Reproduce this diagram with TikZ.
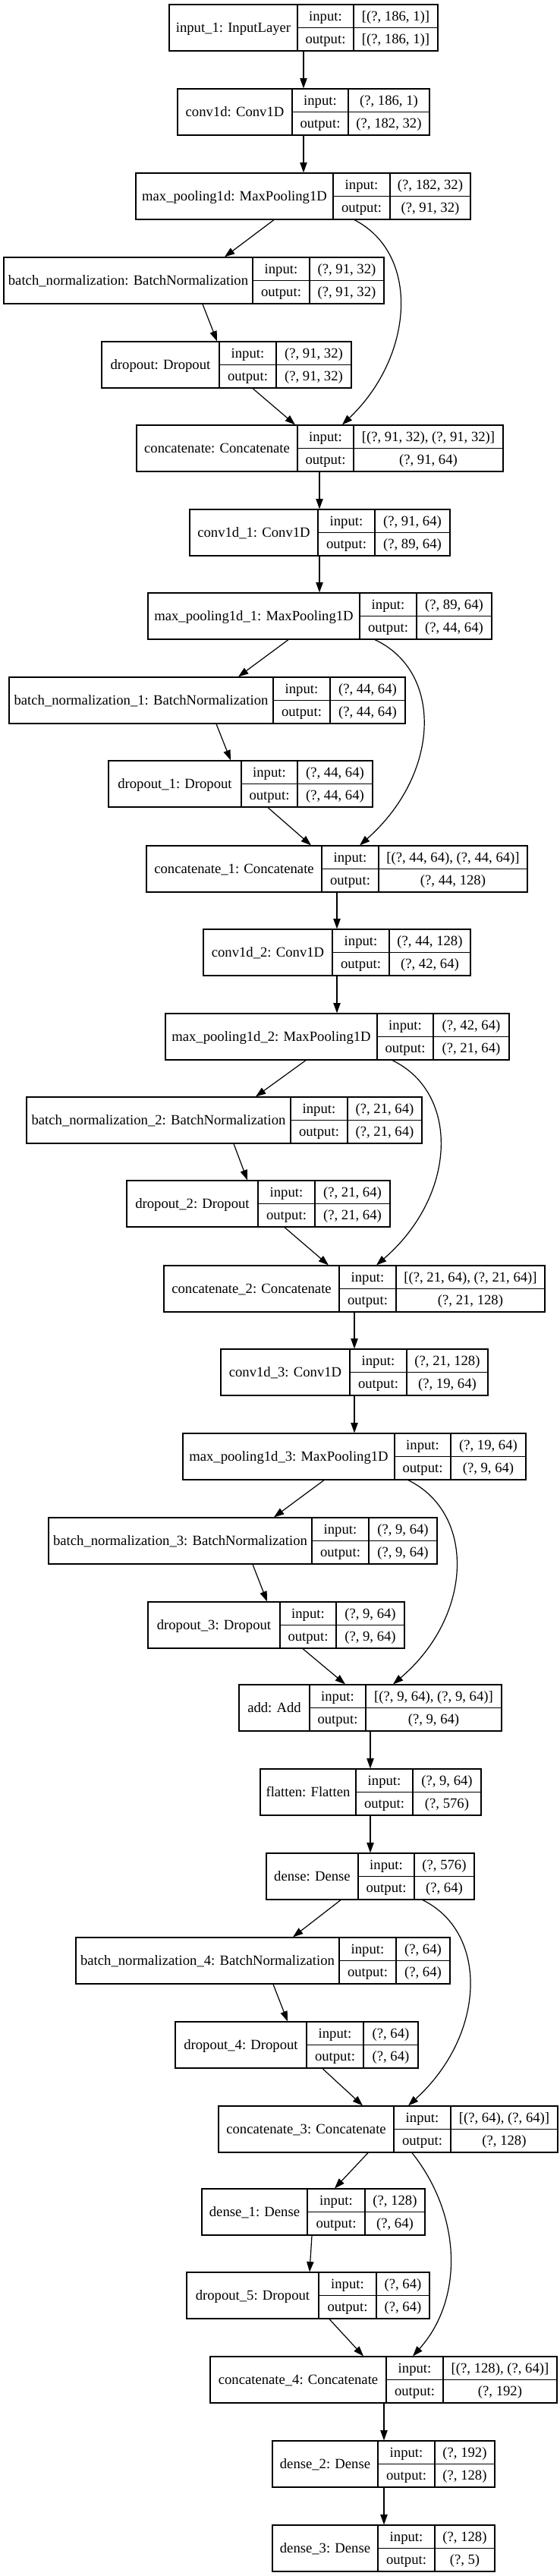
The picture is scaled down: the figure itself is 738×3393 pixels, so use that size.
\documentclass[tikz,border=0pt]{standalone}
\usepackage{fontspec}
\setmainfont{Liberation Serif}
\usetikzlibrary{arrows.meta,fit}
\tikzset{>={Triangle[length=10pt,width=7pt]}}
\tikzset{box/.style={draw,rectangle,inner sep=0pt},
  txt/.style={inner sep=0pt,font=\fontsize{14}{16}\selectfont,
    text height=9.3pt,text depth=0pt}}
% one layer: id, top, left, first rule, second rule, right, name, in, out
\newcommand*{\layer}[9]{%
  \node[box,fit={(#3,#2) (#6,#2+61)}] (#1) {};
  \draw (#4,#2) -- (#4,#2+61) (#4,#2+30.5) -- (#6,#2+30.5)
    (#5,#2) -- (#5,#2+61);
  \node[txt] (#1-name) at ({(#3+#4)/2},#2+30.5) {#7};
  \node[txt] (#1-ik) at ({(#4+#5)/2},#2+15.25) {input:};
  \node[txt] (#1-ok) at ({(#4+#5)/2},#2+45.75) {output:};
  \node[txt] (#1-iv) at ({(#5+#6)/2},#2+15.25) {#8};
  \node[txt] (#1-ov) at ({(#5+#6)/2},#2+45.75) {#9};}

\begin{document}
\begin{tikzpicture}[x=0.75pt,y=-0.75pt,line width=0.9pt]
\useasboundingbox (0,0) rectangle (738,3393);

% Layers
\layer{in1}{6}{223}{392}{466}{577}{input\_1: InputLayer}{[(?, 186, 1)]}{[(?, 186, 1)]}
\layer{cv0}{117}{234}{385}{459}{566}{conv1d: Conv1D}{(?, 186, 1)}{(?, 182, 32)}
\layer{mp0}{228}{179}{439}{514}{620}{max\_pooling1d: MaxPooling1D}{(?, 182, 32)}{(?, 91, 32)}
\layer{bn0}{339}{5}{333}{408}{506}{batch\_normalization: BatchNormalization}{(?, 91, 32)}{(?, 91, 32)}
\layer{do0}{450}{134}{289}{364}{463}{dropout: Dropout}{(?, 91, 32)}{(?, 91, 32)}
\layer{cc0}{560}{180}{392}{466}{663}{concatenate: Concatenate}{[(?, 91, 32), (?, 91, 32)]}{(?, 91, 64)}
\layer{cv1}{671}{250}{419}{494}{593}{conv1d\_1: Conv1D}{(?, 91, 64)}{(?, 89, 64)}
\layer{mp1}{781}{195}{474}{549}{648}{max\_pooling1d\_1: MaxPooling1D}{(?, 89, 64)}{(?, 44, 64)}
\layer{bn1}{892}{12}{360}{435}{534}{batch\_normalization\_1: BatchNormalization}{(?, 44, 64)}{(?, 44, 64)}
\layer{do1}{1002}{143}{318}{392}{491}{dropout\_1: Dropout}{(?, 44, 64)}{(?, 44, 64)}
\layer{cc1}{1114}{193}{424}{499}{695}{concatenate\_1: Concatenate}{[(?, 44, 64), (?, 44, 64)]}{(?, 44, 128)}
\layer{cv2}{1224}{268}{438}{513}{620}{conv1d\_2: Conv1D}{(?, 44, 128)}{(?, 42, 64)}
\layer{mp2}{1335}{218}{497}{571}{671}{max\_pooling1d\_2: MaxPooling1D}{(?, 42, 64)}{(?, 21, 64)}
\layer{bn2}{1445}{35}{383}{458}{556}{batch\_normalization\_2: BatchNormalization}{(?, 21, 64)}{(?, 21, 64)}
\layer{do2}{1555}{167}{340}{415}{514}{dropout\_2: Dropout}{(?, 21, 64)}{(?, 21, 64)}
\layer{cc2}{1667}{216}{447}{522}{718}{concatenate\_2: Concatenate}{[(?, 21, 64), (?, 21, 64)]}{(?, 21, 128)}
\layer{cv3}{1777}{291}{461}{536}{643}{conv1d\_3: Conv1D}{(?, 21, 128)}{(?, 19, 64)}
\layer{mp3}{1888}{241}{520}{594}{693}{max\_pooling1d\_3: MaxPooling1D}{(?, 19, 64)}{(?, 9, 64)}
\layer{bn3}{1999}{64}{411}{486}{576}{batch\_normalization\_3: BatchNormalization}{(?, 9, 64)}{(?, 9, 64)}
\layer{do3}{2110}{195}{369}{443}{533}{dropout\_3: Dropout}{(?, 9, 64)}{(?, 9, 64)}
\layer{add}{2219}{315}{408}{482}{661}{add: Add}{[(?, 9, 64), (?, 9, 64)]}{(?, 9, 64)}
\layer{fl}{2330}{343}{469}{544}{634}{flatten: Flatten}{(?, 9, 64)}{(?, 576)}
\layer{de0}{2441}{351}{472}{546}{625}{dense: Dense}{(?, 576)}{(?, 64)}
\layer{bn4}{2552}{100}{447}{522}{593}{batch\_normalization\_4: BatchNormalization}{(?, 64)}{(?, 64)}
\layer{do4}{2663}{231}{404}{479}{551}{dropout\_4: Dropout}{(?, 64)}{(?, 64)}
\layer{cc3}{2774}{288}{519}{594}{735}{concatenate\_3: Concatenate}{[(?, 64), (?, 64)]}{(?, 128)}
\layer{de1}{2883}{266}{405}{481}{560}{dense\_1: Dense}{(?, 128)}{(?, 64)}
\layer{do5}{2993}{246}{420}{496}{566}{dropout\_5: Dropout}{(?, 64)}{(?, 64)}
\layer{cc4}{3104}{277}{509}{584}{734}{concatenate\_4: Concatenate}{[(?, 128), (?, 64)]}{(?, 192)}
\layer{de2}{3215}{359}{498}{573}{652}{dense\_2: Dense}{(?, 192)}{(?, 128)}
\layer{de3}{3326}{359}{498}{573}{652}{dense\_3: Dense}{(?, 128)}{(?, 5)}

% Straight connectors
\foreach \a/\xa/\b/\xb in {in1/400/cv0/400, cv0/400/mp0/400, mp0/361/bn0/296,
    bn0/267/do0/286, do0/333/cc0/389, cc0/421/cv1/421, cv1/421/mp1/421,
    mp1/380/bn1/314, bn1/285/do1/304, do1/353/cc1/410, cc1/444/cv2/444,
    cv2/444/mp2/444, mp2/403/bn2/337, bn2/308/do2/326, do2/375/cc2/433,
    cc2/467/cv3/467, cv3/467/mp3/467, mp3/427/bn3/361, bn3/333/do3/352,
    do3/399/add/455, add/488/fl/488, fl/488/de0/488, de0/449/bn4/386,
    bn4/360/do4/379, do4/425/cc3/478, cc3/485/de1/441, de1/411/do5/408,
    do5/434/cc4/479, cc4/506/de2/506, de2/506/de3/506}
  \draw[->] (\xa,0 |- \a.south) -- (\xb,0 |- \b.north);

% Skip connectors
\draw[->] (467,0 |- mp0.south) .. controls (555,335) and (545,470) .. (451,0 |- cc0.north);
\draw[->] (494,0 |- mp1.south) .. controls (585,885) and (580,1020) .. (474,0 |- cc1.north);
\draw[->] (517,0 |- mp2.south) .. controls (607,1440) and (602,1575) .. (496,0 |- cc2.north);
\draw[->] (538,0 |- mp3.south) .. controls (628,1994) and (623,2129) .. (518,0 |- add.north);
\draw[->] (557,0 |- de0.south) .. controls (645,2546) and (640,2681) .. (538,0 |- cc3.north);
\draw[->] (543,0 |- cc3.south) .. controls (610,2920) and (610,3030) .. (544,0 |- cc4.north);
\end{tikzpicture}
\end{document}
